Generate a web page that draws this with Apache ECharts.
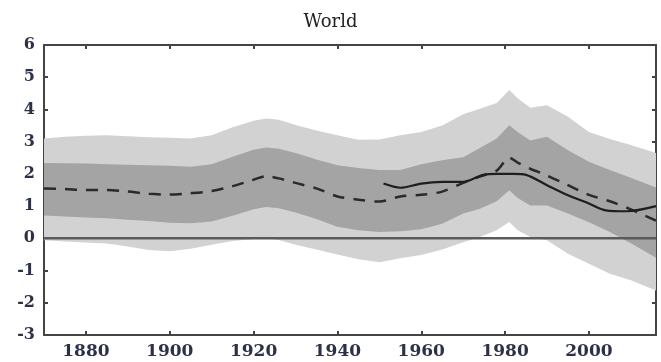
<!DOCTYPE html>
<html>
<head>
<meta charset="utf-8">
<script src="https://cdn.jsdelivr.net/npm/echarts@6/dist/echarts.min.js"></script>
<style>
html,body{margin:0;padding:0;background:#fff;}
#chart{width:661px;height:362px;}
</style>
</head>
<body>
<div id="chart"></div>
<script>
// ---- data ----
var titleText = 'World';
var bandYears = [1870,1875,1880,1885,1890,1895,1900,1905,1910,1915,1920,1923,1926,1930,1935,1940,1945,1950,1955,1960,1965,1970,1974,1978,1981,1983,1986,1990,1995,2000,2005,2010,2016];
var outerUpper = [3.10,3.15,3.18,3.20,3.17,3.14,3.12,3.10,3.20,3.45,3.65,3.72,3.68,3.52,3.35,3.20,3.06,3.07,3.20,3.30,3.50,3.85,4.02,4.20,4.60,4.35,4.05,4.13,3.77,3.30,3.08,2.90,2.65];
var innerUpper = [2.34,2.33,2.32,2.30,2.28,2.27,2.25,2.22,2.30,2.53,2.75,2.82,2.78,2.65,2.45,2.27,2.18,2.12,2.12,2.30,2.42,2.52,2.80,3.10,3.51,3.30,3.04,3.15,2.73,2.38,2.12,1.88,1.58];
var innerLower = [0.71,0.68,0.65,0.62,0.58,0.54,0.48,0.47,0.52,0.70,0.90,0.97,0.93,0.80,0.60,0.36,0.25,0.20,0.22,0.28,0.45,0.77,0.92,1.15,1.49,1.25,1.02,1.02,0.77,0.50,0.20,-0.15,-0.60];
var outerLower = [-0.06,-0.10,-0.13,-0.16,-0.25,-0.36,-0.40,-0.32,-0.20,-0.08,-0.02,0.00,-0.05,-0.20,-0.35,-0.50,-0.65,-0.74,-0.62,-0.52,-0.35,-0.12,0.04,0.25,0.51,0.25,0.04,-0.06,-0.48,-0.79,-1.10,-1.30,-1.62];
var dashedValues = [1.55,1.53,1.50,1.50,1.45,1.38,1.36,1.40,1.47,1.62,1.82,1.93,1.86,1.72,1.55,1.30,1.20,1.14,1.30,1.35,1.45,1.72,1.92,2.10,2.50,2.35,2.16,1.95,1.65,1.35,1.15,0.90,0.55];
var solidYears = [1951,1955,1960,1965,1970,1975,1978,1982,1985,1990,1995,2000,2004,2009,2016];
var solidValues = [1.70,1.57,1.70,1.75,1.75,1.98,2.00,2.00,1.97,1.65,1.34,1.08,0.87,0.84,1.00];
var xTicks = [1880,1900,1920,1940,1960,1980,2000];
var yMin = -3, yMax = 6, xMin = 1870, xMax = 2016;

// ---- build ----
function pairs(xs, ys){ return xs.map(function(x,i){ return [x, ys[i]]; }); }
function triples(xs, hi, lo){ return xs.map(function(x,i){ return [x, hi[i], lo[i]]; }); }

function bandRenderer(hi, lo, color){
  return function(params, api){
    if (params.dataIndex !== 0) return null;
    var pts = [];
    for (var i = 0; i < bandYears.length; i++) pts.push(api.coord([bandYears[i], hi[i]]));
    for (var j = bandYears.length - 1; j >= 0; j--) pts.push(api.coord([bandYears[j], lo[j]]));
    return {type:'polygon', shape:{points:pts, smooth:0}, style:{fill:color, stroke:null}, silent:true};
  };
}

var axisColor = '#444';
var labelFont = {fontFamily:'DejaVu Serif', fontSize:16, color:'#2d3148'};

var chart = echarts.init(document.getElementById('chart'), null, {renderer:'canvas'});
chart.setOption({
  animation:false,
  backgroundColor:'#fff',
  title:{text:titleText, left:'center', top:8, textStyle:{fontFamily:'DejaVu Serif', fontSize:18, fontWeight:'normal', color:'#222'}},
  grid:{left:44, right:5, top:45, bottom:27, containLabel:false},
  xAxis:[
    {type:'value', min:xMin, max:xMax, position:'bottom',
     axisLine:{show:true, onZero:false, lineStyle:{color:axisColor, width:2}},
     axisTick:{show:true, inside:true, length:4, lineStyle:{color:axisColor, width:2}, customValues:xTicks},
     axisLabel:{show:true, margin:8, customValues:xTicks, formatter:function(v){return String(v);},
       fontFamily:labelFont.fontFamily, fontSize:17, fontWeight:'bold', color:labelFont.color},
     splitLine:{show:false}},
    {type:'value', min:xMin, max:xMax, position:'top',
     axisLine:{show:true, onZero:false, lineStyle:{color:axisColor, width:2}},
     axisTick:{show:true, inside:true, length:4, lineStyle:{color:axisColor, width:2}, customValues:xTicks},
     axisLabel:{show:false},
     splitLine:{show:false}}
  ],
  yAxis:[
    {type:'value', min:yMin, max:yMax, interval:1, position:'left',
     axisLine:{show:true, onZero:false, lineStyle:{color:axisColor, width:2}},
     axisTick:{show:true, inside:true, length:4, lineStyle:{color:axisColor, width:2}},
     axisLabel:{show:true, margin:9, fontFamily:labelFont.fontFamily, fontSize:labelFont.fontSize, fontWeight:'bold', color:labelFont.color},
     splitLine:{show:false}},
    {type:'value', min:yMin, max:yMax, interval:1, position:'right',
     axisLine:{show:true, onZero:false, lineStyle:{color:axisColor, width:2}},
     axisTick:{show:true, inside:true, length:4, lineStyle:{color:axisColor, width:2}},
     axisLabel:{show:false},
     splitLine:{show:false}}
  ],
  series:[
    {type:'custom', name:'outerBand', data:triples(bandYears, outerUpper, outerLower),
     encode:{x:0, y:[1,2]}, renderItem:bandRenderer(outerUpper, outerLower, '#d2d2d2'), silent:true, z:1},
    {type:'custom', name:'innerBand', data:triples(bandYears, innerUpper, innerLower),
     encode:{x:0, y:[1,2]}, renderItem:bandRenderer(innerUpper, innerLower, '#a4a4a4'), silent:true, z:2},
    {type:'line', name:'zero', data:pairs([xMin, xMax], [0, 0]), symbol:'none', silent:true,
     lineStyle:{color:'#5a5a5a', width:2.5}, z:3},
    {type:'line', name:'dashed', data:pairs(bandYears, dashedValues), symbol:'none', smooth:0.3,
     lineStyle:{color:'#2a2a2a', width:2.5, type:[12,9]}, z:4},
    {type:'line', name:'solid', data:pairs(solidYears, solidValues), symbol:'none', smooth:0.3,
     lineStyle:{color:'#1e1e1e', width:2.2}, z:5}
  ]
});
</script>
</body>
</html>
